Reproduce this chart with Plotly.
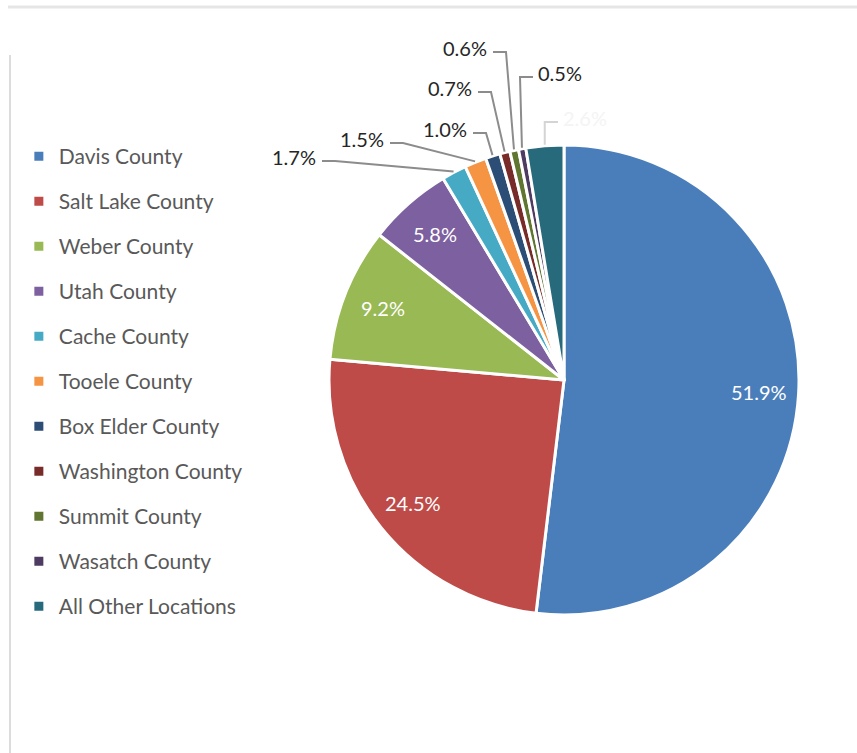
import math
import plotly.graph_objects as go

# ---------------- data ----------------
categories = ["Davis County", "Salt Lake County", "Weber County", "Utah County",
              "Cache County", "Tooele County", "Box Elder County", "Washington County",
              "Summit County", "Wasatch County", "All Other Locations"]
shares = [51.9, 24.5, 9.2, 5.8, 1.7, 1.5, 1.0, 0.7, 0.6, 0.5, 2.6]
colors = ["#4A7EBB", "#BE4B48", "#98B954", "#7D60A0", "#46AAC5", "#F59443",
          "#2C4D75", "#772C2A", "#5F7530", "#4D3B62", "#276A7C"]
label_text = [f"{v:.1f}%" for v in shares]

# ---------------- layout constants (pixels) ----------------
W, H = 857, 753
CX, CY, R = 564, 380, 235
FONT = "Lato"
inside_n = 4                      # first slices labelled inside
inside_frac = 0.83
# leader-line start (px, near label) for the small slices, and which side the label sits on
out_line_start = [(322, 161), (390, 143), (473, 133), (478, 92), (493, 52), (533, 77), (558, 122)]
out_label_side = ["left", "left", "left", "left", "left", "right", "right"]
elbow_len = 13

def px2paper(x, y):
    return x / W, 1 - y / H

# ---------------- figure ----------------
fig = go.Figure()
fig.add_trace(go.Pie(
    labels=categories, values=shares, sort=False, direction="clockwise", rotation=0,
    marker=dict(colors=colors, line=dict(color="white", width=3)),
    textinfo="none", hoverinfo="label+percent", showlegend=False,
    domain=dict(x=[(CX - R) / W, (CX + R) / W], y=[(H - CY - R) / H, (H - CY + R) / H]),
))

# legend entries (one per category)
for c, col in zip(categories, colors):
    fig.add_trace(go.Scatter(x=[None], y=[None], mode="markers", name=c, legendgroup=c,
                             marker=dict(symbol="square", size=9, color=col),
                             hoverinfo="skip"))

# label annotations and leader lines
total = sum(shares)
cum = 0.0
annotations = []
shapes = []
oi = 0
for i, v in enumerate(shares):
    mid = (cum + v / 2) / total * 2 * math.pi
    cum += v
    if i < inside_n:
        lx = CX + inside_frac * R * math.sin(mid)
        ly = CY - inside_frac * R * math.cos(mid)
        ax, ay = px2paper(lx, ly)
        annotations.append(dict(x=ax, y=ay, xref="paper", yref="paper", text=label_text[i],
                                xanchor="center", yanchor="middle",
                                showarrow=False, font=dict(family=FONT, size=20, color="white")))
    else:
        ex = CX + (R + 1) * math.sin(mid)
        ey = CY - (R + 1) * math.cos(mid)
        sx, sy = out_line_start[oi]
        side = out_label_side[oi]
        faint = (i == len(shares) - 1)
        tcol = "#f4f4f4" if faint else "#262626"
        lcol = "#d4d4d4" if faint else "#8c8c8c"
        if faint:
            pts = [(sx, sy), (ex, sy), (ex, ey)]
        elif side == "left":
            pts = [(sx, sy), (sx + elbow_len, sy), (ex, ey)]
        else:
            pts = [(sx, sy), (sx - elbow_len, sy), (ex, ey)]
        path = "M " + " L ".join(f"{px2paper(x, y)[0]},{px2paper(x, y)[1]}" for x, y in pts)
        shapes.append(dict(type="path", path=path, xref="paper", yref="paper",
                           line=dict(color=lcol, width=2)))
        if side == "left":
            tx, xa = sx - 4, "right"
        else:
            tx, xa = sx + 3, "left"
        ax, ay = px2paper(tx, sy - 4)
        annotations.append(dict(x=ax, y=ay, xref="paper", yref="paper", text=label_text[i],
                                xanchor=xa, yanchor="middle",
                                showarrow=False, font=dict(family=FONT, size=20, color=tcol)))
        oi += 1

# faint frame
shapes.append(dict(type="line", xref="paper", yref="paper", x0=8 / W, x1=1, y0=1 - 7 / H, y1=1 - 7 / H,
                   line=dict(color="#e6e6e6", width=3)))
shapes.append(dict(type="line", xref="paper", yref="paper", x0=10 / W, x1=10 / W, y0=0, y1=1 - 55 / H,
                   line=dict(color="#dcdcdc", width=2)))

fig.update_layout(
    width=W, height=H, margin=dict(l=0, r=0, t=0, b=0),
    paper_bgcolor="white", plot_bgcolor="white",
    xaxis=dict(visible=False), yaxis=dict(visible=False),
    showlegend=True,
    legend=dict(x=0.022, y=1 - 136 / H, xanchor="left", yanchor="top",
                font=dict(family=FONT, size=21, color="#595959"),
                tracegroupgap=14.7, bgcolor="rgba(0,0,0,0)"),
    annotations=annotations, shapes=shapes,
)

fig.write_html("out.html")
